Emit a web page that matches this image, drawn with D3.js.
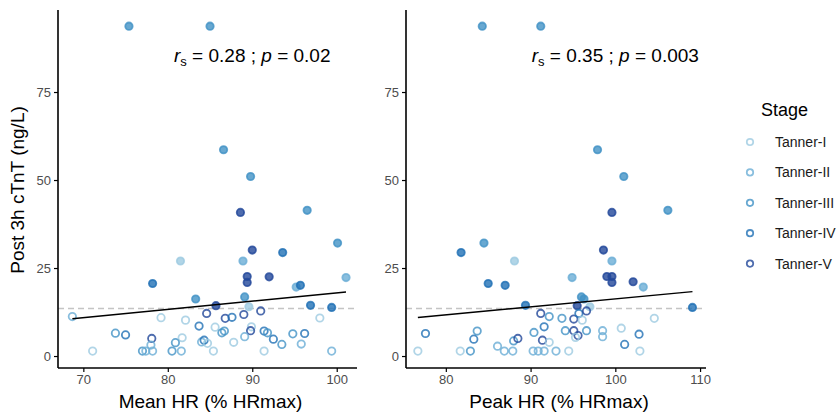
<!DOCTYPE html>
<html>
<head>
<meta charset="utf-8">
<script src="https://cdn.jsdelivr.net/npm/d3@7"></script>
<style>
  body { margin: 0; background: #fff; }
  svg { font-family: "Liberation Sans", Arial, sans-serif; }
</style>
</head>
<body>
<svg id="chart" width="840" height="413"></svg>
<script>
// stages, 1..5
const stages = ['Tanner-I', 'Tanner-II', 'Tanner-III', 'Tanner-IV', 'Tanner-V'];
const stageColors = ['#9ecae1', '#6baed6', '#4292c6', '#2171b5', '#22479a'];

// [HR (% HRmax), post 3h cTnT (ng/L), stage]
const meanHR = [
  [75.4, 93.7, 3], [85.0, 93.7, 3], [86.6, 58.6, 3], [89.8, 51.0, 3], [88.6, 40.8, 5],
  [96.5, 41.4, 3], [100.1, 32.1, 3], [90.0, 30.1, 5], [93.6, 29.4, 4], [81.5, 27.0, 1],
  [88.9, 27.0, 2], [89.4, 22.6, 5], [89.4, 20.9, 5], [92.0, 22.5, 5], [101.1, 22.3, 2],
  [78.2, 20.6, 4], [95.2, 19.6, 2], [95.7, 20.1, 4], [83.3, 16.2, 3], [89.1, 16.8, 3],
  [85.7, 14.3, 5], [96.9, 14.4, 4], [99.4, 13.8, 4], [89.6, 14.0, 1],
  [68.7, 11.2, 2], [79.2, 10.9, 1], [82.1, 10.2, 1], [84.6, 12.1, 5], [86.8, 10.7, 5],
  [87.6, 11.0, 4], [89.0, 11.8, 5], [91.0, 12.8, 5], [98.0, 10.8, 1],
  [83.7, 8.5, 4], [85.6, 8.2, 1], [86.4, 6.6, 3], [86.7, 7.1, 3], [89.9, 8.3, 1],
  [89.8, 7.2, 5], [91.4, 7.1, 4], [91.8, 6.6, 3], [92.5, 4.8, 4], [93.5, 3.3, 3],
  [94.8, 6.3, 3], [96.2, 6.4, 4], [95.8, 3.4, 2],
  [73.8, 6.5, 3], [75.0, 6.0, 4], [78.1, 5.0, 5], [78.0, 3.1, 2], [81.7, 5.2, 1],
  [80.9, 3.8, 3], [84.0, 4.0, 2], [84.3, 4.5, 4], [84.7, 3.6, 1], [87.8, 3.9, 1],
  [89.1, 5.5, 2],
  [71.1, 1.4, 1], [77.0, 1.4, 3], [77.4, 1.4, 2], [78.2, 1.4, 2], [80.5, 1.4, 3],
  [81.6, 1.4, 2], [85.4, 1.4, 1], [91.4, 1.4, 1], [99.4, 1.4, 2]
];

const peakHR = [
  [84.3, 93.7, 3], [91.2, 93.7, 3], [97.9, 58.6, 3], [101.0, 51.0, 3], [99.6, 40.8, 5],
  [106.2, 41.4, 3], [84.5, 32.1, 3], [81.8, 29.4, 4], [98.6, 30.1, 5], [88.1, 27.0, 1],
  [99.6, 27.0, 2], [85.0, 20.6, 4], [87.0, 20.1, 4], [99.0, 22.6, 5], [99.6, 22.6, 5],
  [99.6, 20.9, 5], [102.1, 21.1, 5], [103.3, 19.6, 2], [94.9, 22.3, 2], [89.4, 14.4, 4],
  [96.0, 16.8, 3], [96.3, 16.2, 3], [95.5, 14.3, 5], [97.0, 14.0, 1], [109.1, 13.8, 4],
  [76.7, 1.4, 1], [81.7, 1.4, 1], [82.9, 1.4, 3], [86.9, 1.4, 2], [87.9, 1.4, 2],
  [90.3, 1.4, 2], [90.9, 1.4, 2], [91.6, 1.4, 2], [93.0, 1.4, 2], [94.5, 1.4, 1],
  [102.9, 1.4, 1],
  [77.6, 6.4, 4], [83.7, 7.1, 3], [83.3, 4.8, 4], [86.1, 2.8, 2], [88.0, 4.3, 3],
  [88.5, 5.0, 5], [90.4, 6.7, 3], [91.6, 8.3, 4], [91.4, 4.5, 5], [92.2, 3.9, 1],
  [91.2, 12.1, 5], [92.2, 11.2, 3], [93.7, 10.7, 3], [95.1, 10.5, 5], [95.7, 12.1, 4],
  [96.6, 12.8, 5], [96.1, 10.2, 1], [104.6, 10.7, 1],
  [94.1, 7.2, 3], [95.1, 7.2, 5], [95.6, 5.8, 5], [95.3, 5.3, 1], [96.6, 7.2, 3],
  [98.5, 7.2, 2], [98.5, 5.5, 2], [100.7, 7.9, 1], [102.8, 6.2, 4], [101.1, 3.3, 4]
];

// linear fits: [intercept, slope]
const meanFit = [-5.52, 0.2346];
const peakFit = [-6.36, 0.226];
// spearman label: [rs, p, x position of label]
const stats = [['0.28', '0.02', 90], ['0.35', '0.003', 100]];
const yTicks = [0, 25, 50, 75];
const meanTicks = [70, 80, 90, 100];
const peakTicks = [80, 90, 100, 110];
const cutoff = 13.5;

const svg = d3.select('#chart');
const alpha = 0.8;

let yScale = d3.scaleLinear().domain([-3.4, 98.3]).range([368, 10]);

function drawPanel(pts, xDomain, xRange, ticks, fit, stat, title) {
    let xScale = d3.scaleLinear().domain(xDomain).range(xRange);
    let g = svg.append('g');

    // dashed cut-off
    g.append('line')
        .attr('x1', xRange[0]).attr('x2', xRange[1])
        .attr('y1', yScale(cutoff)).attr('y2', yScale(cutoff))
        .attr('stroke', '#c4c4c4').attr('stroke-width', 1.6)
        .attr('stroke-dasharray', '6,4');

    g.selectAll('circle.pt')
        .data(pts)
        .enter()
        .append('circle')
        .attr('class', 'pt')
        .attr('cx', d => xScale(d[0]))
        .attr('cy', d => yScale(d[1]))
        .attr('r', 3.7)
        .attr('fill', d => d[1] > cutoff ? stageColors[d[2] - 1] : 'none')
        .attr('fill-opacity', alpha)
        .attr('stroke', d => stageColors[d[2] - 1])
        .attr('stroke-opacity', alpha)
        .attr('stroke-width', 1.8);

    // regression line over the data range
    let ext = d3.extent(pts, d => d[0]);
    g.append('line')
        .attr('x1', xScale(ext[0])).attr('y1', yScale(fit[0] + fit[1] * ext[0]))
        .attr('x2', xScale(ext[1])).attr('y2', yScale(fit[0] + fit[1] * ext[1]))
        .attr('stroke', '#000').attr('stroke-width', 1.5);

    let xAxis = d3.axisBottom(xScale).tickValues(ticks).tickSize(4).tickPadding(3);
    let yAxis = d3.axisLeft(yScale).tickValues(yTicks).tickSize(4).tickPadding(3);

    let gx = g.append('g').attr('transform', `translate(0,368)`).call(xAxis);
    let gy = g.append('g').attr('transform', `translate(${xRange[0]},0)`).call(yAxis);
    [gx, gy].forEach(a => {
        a.select('.domain').attr('stroke', '#000').attr('stroke-width', 1.6);
        a.selectAll('.tick line').attr('stroke', '#000').attr('stroke-width', 1.2);
        a.selectAll('.tick text').attr('fill', '#4d4d4d').style('font-size', '13px')
            .style('font-family', '"Liberation Sans", Arial, sans-serif');
    });
    // keep domain as a plain line (no end ticks)
    gx.select('.domain').attr('d', `M${xRange[0]},0H${xRange[1]}`);
    gy.select('.domain').attr('d', `M0,${yScale.range()[0]}V${yScale.range()[1]}`);

    g.append('text')
        .attr('x', (xRange[0] + xRange[1]) / 2 + 3).attr('y', 408)
        .attr('text-anchor', 'middle').style('font-size', '19px')
        .text(title);

    let t = g.append('text')
        .attr('x', xScale(stat[2])).attr('y', 62)
        .attr('text-anchor', 'middle').style('font-size', '19px');
    t.append('tspan').style('font-style', 'italic').text('r');
    t.append('tspan').attr('dy', 4).style('font-size', '13px').text('s');
    t.append('tspan').attr('dy', -4).text(' = ' + stat[0] + ' ; ');
    t.append('tspan').style('font-style', 'italic').text('p');
    t.append('tspan').text(' = ' + stat[1]);
}

drawPanel(meanHR, [67.0, 102.4], [58, 357], meanTicks, meanFit, stats[0], 'Mean HR (% HRmax)');
drawPanel(peakHR, [75.3, 110.7], [406, 706], peakTicks, peakFit, stats[1], 'Peak HR (% HRmax)');

svg.append('text')
    .attr('transform', 'translate(24,190) rotate(-90)')
    .attr('text-anchor', 'middle').style('font-size', '19px')
    .text('Post 3h cTnT (ng/L)');

// legend
let legend = svg.append('g').attr('transform', 'translate(750,0)');
legend.append('text').attr('x', 11).attr('y', 116).style('font-size', '18px').text('Stage');
let items = legend.selectAll('g.item')
    .data(stages)
    .enter()
    .append('g')
    .attr('transform', (d, i) => `translate(0,${142 + i * 30.4})`);
items.append('circle')
    .attr('r', 3.2)
    .attr('fill', 'none')
    .attr('stroke', (d, i) => stageColors[i])
    .attr('stroke-opacity', alpha)
    .attr('stroke-width', 1.8);
items.append('text')
    .attr('x', 25).attr('y', 5)
    .style('font-size', '14px').attr('fill', '#1a1a1a')
    .text(d => d);
</script>
</body>
</html>
